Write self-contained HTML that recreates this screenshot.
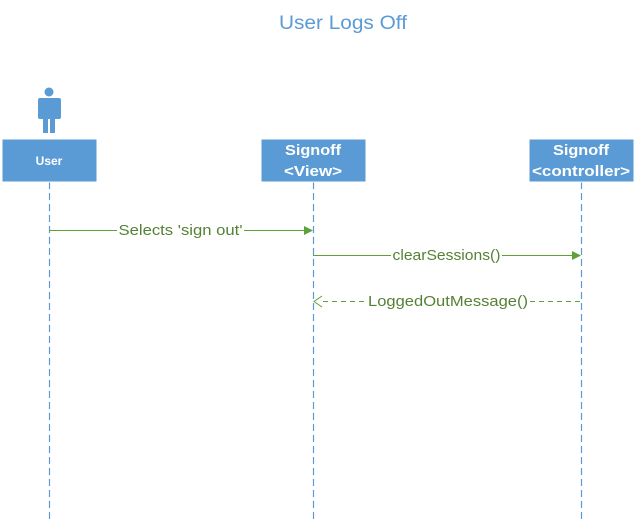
<!DOCTYPE html>
<html><head><style>
body{margin:0;width:639px;height:522px;background:#fff;overflow:hidden}
</style></head><body>
<svg width="639" height="522" xmlns="http://www.w3.org/2000/svg" font-family="Liberation Sans, sans-serif">
<text x="343" y="29" text-anchor="middle" font-size="19" fill="#5b9bd5" textLength="128" lengthAdjust="spacingAndGlyphs">User Logs Off</text>
<!-- actor -->
<g fill="#5b9bd5">
<circle cx="49" cy="92" r="4.5"/>
<rect x="38" y="98" width="23" height="21" rx="2"/>
<rect x="43" y="115" width="5" height="18"/>
<rect x="50" y="115" width="5" height="18"/>
</g>
<g stroke="#5b9bd5" stroke-width="1.2" stroke-dasharray="7,4" fill="none">
<line x1="49.5" y1="182" x2="49.5" y2="522"/>
<line x1="313.5" y1="182" x2="313.5" y2="522"/>
<line x1="581.5" y1="182" x2="581.5" y2="522"/>
</g>
<g fill="#5b9bd5" stroke="#fff" stroke-width="1">
<rect x="2" y="139" width="95" height="43"/>
<rect x="261" y="139" width="105" height="43"/>
<rect x="529" y="139" width="105" height="43"/>
</g>
<g fill="#fff" font-weight="bold" text-anchor="middle" font-size="15">
<text x="49" y="165" font-size="12">User</text>
<text x="313" y="155" textLength="56" lengthAdjust="spacingAndGlyphs">Signoff</text>
<text x="313" y="176" textLength="58" lengthAdjust="spacingAndGlyphs">&lt;View&gt;</text>
<text x="581" y="155" textLength="56" lengthAdjust="spacingAndGlyphs">Signoff</text>
<text x="581" y="176" textLength="98" lengthAdjust="spacingAndGlyphs">&lt;controller&gt;</text>
</g>
<g stroke="#5ea03a" stroke-width="1" fill="none">
<line x1="49" y1="230.5" x2="117" y2="230.5"/>
<line x1="244" y1="230.5" x2="304" y2="230.5"/>
<line x1="313" y1="255.5" x2="391" y2="255.5"/>
<line x1="502" y1="255.5" x2="572" y2="255.5"/>
<line x1="323" y1="301.5" x2="366" y2="301.5" stroke-dasharray="5,4"/>
<line x1="530" y1="301.5" x2="581" y2="301.5" stroke-dasharray="5,4"/>
<polyline points="322,296 314,301.5 322,307"/>
</g>
<g fill="#5ea03a">
<polygon points="304,226 313,230.5 304,235"/>
<polygon points="572,251 581,255.5 572,260"/>
</g>
<g fill="#548235" font-size="15" text-anchor="middle" lengthAdjust="spacingAndGlyphs">
<text x="180.5" y="235" textLength="124" lengthAdjust="spacingAndGlyphs">Selects 'sign out'</text>
<text x="446.5" y="260" textLength="108" lengthAdjust="spacingAndGlyphs">clearSessions()</text>
<text x="448" y="306" textLength="160" lengthAdjust="spacingAndGlyphs">LoggedOutMessage()</text>
</g>
</svg>
</body></html>
